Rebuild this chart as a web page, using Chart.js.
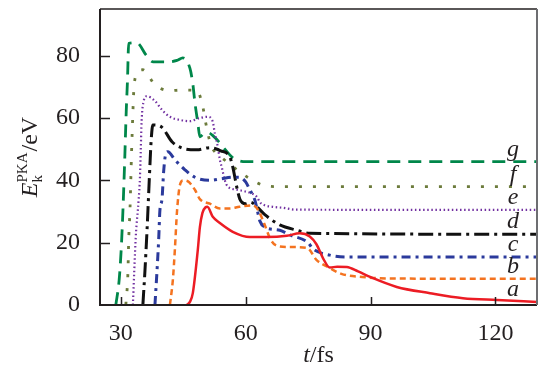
<!DOCTYPE html>
<html>
<head>
<meta charset="utf-8">
<script src="https://cdn.jsdelivr.net/npm/chart.js@4"></script>
<style>
  html, body { margin: 0; padding: 0; background: #fff; }
  #wrap { width: 550px; height: 376px; }
</style>
</head>
<body>
<div id="wrap"><canvas id="chart" width="550" height="376"></canvas></div>
<script>
/* ---- data: t in fs, E in eV ---- */
const T_TICKS = [30, 60, 90, 120];
const E_TICKS = [0, 20, 40, 60, 80];
const CURVE_NAMES = ['a', 'b', 'c', 'd', 'e', 'f', 'g'];

const aT = [45.8, 46.6, 47.3, 48.5, 49, 49.6, 50.3, 50.8, 52.1, 53.8, 56.9, 61, 65, 69.9, 73, 75.4, 77, 78.6, 80.2, 82, 84.3, 87, 89.9, 96.3, 104.3, 112.2, 120.4, 130];
const aE = [0, 1, 3.8, 17.7, 25, 29.5, 31.3, 31.5, 28.3, 26.3, 23.5, 21.8, 21.8, 22.2, 23, 22, 19.5, 15, 12, 12.3, 12.2, 10.8, 9, 5.8, 3.8, 2.2, 1.6, 1.0];

const bT = [41.8, 42.5, 43, 43.5, 44.2, 45, 46, 47.8, 49, 51.4, 53.8, 56.2, 58.5, 61.7, 63, 64.5, 66, 67.5, 70.6, 74.8, 77, 80, 83, 88, 95, 130];
const bE = [0, 8, 18, 30, 38.5, 40, 39.8, 37, 34, 32.5, 31, 31, 31.5, 32, 30.5, 26, 21, 19, 18.6, 18.3, 14.5, 12, 10, 9, 8.5, 8.4];

const cT = [38.2, 38.7, 39.1, 39.4, 39.9, 40.3, 40.8, 41.3, 43, 45.4, 47.8, 51.4, 54, 57, 58.6, 60, 61, 62.2, 62.7, 63.4, 64.6, 68.2, 70.6, 75, 76.2, 80.2, 84.3, 130];
const cE = [0, 11, 21, 30.5, 34, 43, 48.5, 49.2, 46.6, 43.4, 41, 40, 40.5, 41, 41, 39.5, 37, 33.7, 31, 27, 25, 24, 22.5, 20, 18, 16, 15.4, 15.4];

const dT = [35.3, 35.8, 36.3, 36.7, 37, 37.3, 37.7, 39.9, 42.3, 44.7, 48.3, 51.4, 54, 56.2, 56.9, 57.4, 58, 58.6, 60, 61.2, 62.7, 64.6, 68.2, 72.3, 75.5, 130];
const dE = [0, 11, 24, 36, 45, 53, 57.8, 57, 52.4, 50.4, 49.8, 50.5, 49.5, 47.5, 44.3, 41, 37, 34, 32.5, 33, 31.5, 29, 25.7, 24, 23, 22.7];

const eT = [32.9, 33.6, 34.3, 34.6, 34.8, 35, 35.5, 36.2, 38.2, 39.9, 41.8, 44.2, 46.6, 49, 50.9, 52.1, 52.6, 53.3, 53.8, 54.3, 55, 55.7, 57.9, 61, 62.7, 63.4, 64.6, 66.5, 68.9, 72, 130];
const eE = [0, 22, 34, 41, 50, 59, 65.5, 67, 65.5, 62.6, 60.4, 59.4, 59, 60, 60.4, 58.8, 55, 50.8, 46.6, 44, 40, 38, 37, 36, 34.7, 33, 32, 31.5, 31.2, 30.6, 30.5];

const fT = [31.2, 31.7, 31.9, 32.2, 32.6, 32.9, 33.1, 33.6, 35.3, 38.2, 41.8, 44.9, 48.3, 49.7, 50.4, 51.5, 53, 54.3, 57.6, 61, 64.1, 67.7, 130];
const fE = [0, 10, 21, 30.5, 49.8, 61.7, 68.4, 73.6, 75.5, 70.7, 68.8, 69, 68.8, 63.6, 58.5, 52, 48.5, 47.2, 43.7, 40.5, 38.5, 38, 38];

const gT = [28.8, 29.6, 30.1, 30.5, 30.9, 31.3, 31.6, 31.9, 33.8, 36.2, 37.8, 41, 43.5, 44.9, 46.6, 47.3, 47.8, 48.5, 49, 50, 51, 52, 53.8, 55, 56.7, 58, 60, 130];
const gE = [0, 8, 18, 30, 45, 62, 72, 84, 84.2, 80, 78, 78, 78.5, 79.3, 76, 71, 65, 58.5, 54, 55, 55.3, 54.5, 52, 50, 47.5, 46.5, 46, 46];

/* ---- styles ---- */
const SERIF = "'Liberation Serif', 'DejaVu Serif', serif";
const INK = '#231f20';

const STYLES = [
  { color: '#ec1c24', width: 2.5, dash: [] },
  { color: '#f47320', width: 2.5, dash: [6, 4] },
  { color: '#2b3a9c', width: 3, dash: [9, 5, 3, 5] },
  { color: '#111111', width: 3, dash: [15, 5, 3, 5] },
  { color: '#7231a1', width: 2.2, dash: [1.5, 2.6] },
  { color: '#6c7b3b', width: 2.8, dash: [3, 11] },
  { color: '#00874a', width: 2.8, dash: [13, 8] },
];

const SERIES = [[aT, aE], [bT, bE], [cT, cE], [dT, dE], [eT, eE], [fT, fE], [gT, gE]];

const datasets = SERIES.map(([ts, es], i) => ({
  label: CURVE_NAMES[i],
  data: ts.map((t, k) => ({ x: t, y: es[k] })),
  borderColor: STYLES[i].color,
  borderWidth: STYLES[i].width,
  borderDash: STYLES[i].dash,
  borderCapStyle: 'butt',
  cubicInterpolationMode: 'monotone',
  pointRadius: 0,
  fill: false,
}));

/* frame, inward ticks, curve letters and axis titles */
const decorPlugin = {
  id: 'decor',
  afterDraw(chart) {
    const { ctx, chartArea: a, scales } = chart;
    ctx.save();

    // frame
    ctx.strokeStyle = INK;
    ctx.lineWidth = 2;
    ctx.beginPath();
    ctx.moveTo(a.left, a.top);
    ctx.lineTo(a.left, a.bottom);
    ctx.lineTo(a.right, a.bottom);
    ctx.stroke();
    ctx.lineWidth = 1.6;
    ctx.beginPath();
    ctx.moveTo(a.left, a.top);
    ctx.lineTo(a.right, a.top);
    ctx.stroke();
    ctx.strokeStyle = '#6d6e71';
    ctx.lineWidth = 2;
    ctx.beginPath();
    ctx.moveTo(a.right, a.top);
    ctx.lineTo(a.right, a.bottom);
    ctx.stroke();

    // inward ticks
    ctx.strokeStyle = INK;
    ctx.lineWidth = 1.5;
    ctx.beginPath();
    E_TICKS.forEach(v => {
      if (v === 0) return;
      const y = Math.round(scales.y.getPixelForValue(v)) + 0.5;
      ctx.moveTo(a.left, y);
      ctx.lineTo(a.left + 10, y);
    });
    T_TICKS.forEach(v => {
      const x = Math.round(scales.x.getPixelForValue(v)) + 0.5;
      ctx.moveTo(x, a.bottom);
      ctx.lineTo(x, a.bottom - 8);
    });
    ctx.stroke();

    // curve letters above each line end
    ctx.fillStyle = INK;
    ctx.font = 'italic 24px ' + SERIF;
    ctx.textAlign = 'center';
    ctx.textBaseline = 'alphabetic';
    SERIES.forEach(([ts, es], i) => {
      const y = scales.y.getPixelForValue(es[es.length - 1]) - 6;
      ctx.fillText(CURVE_NAMES[i], a.right - 24, y);
    });

    // x title: t/fs
    ctx.textAlign = 'left';
    const xt = 'italic 24px ' + SERIF, xr = '24px ' + SERIF;
    ctx.font = xt; const wT = ctx.measureText('t').width;
    ctx.font = xr; const wR = ctx.measureText('/fs').width;
    let x0 = (a.left + a.right) / 2 - (wT + wR) / 2;
    ctx.font = xt; ctx.fillText('t', x0, 362);
    ctx.font = xr; ctx.fillText('/fs', x0 + wT, 362);

    // y title: E_k^PKA/eV, rotated
    ctx.translate(37, (a.top + a.bottom) / 2);
    ctx.rotate(-Math.PI / 2);
    const big = 24, small = 15;
    ctx.font = 'italic ' + big + 'px ' + SERIF;
    const wE = ctx.measureText('E').width;
    ctx.font = small + 'px ' + SERIF;
    const wK = ctx.measureText('k').width;
    const wP = ctx.measureText('PKA').width;
    ctx.font = big + 'px ' + SERIF;
    const wV = ctx.measureText('/eV').width;
    const total = wE + Math.max(wK, wP) + 1 + wV;
    let cx = -total / 2;
    ctx.font = 'italic ' + big + 'px ' + SERIF;
    ctx.fillText('E', cx, 0);
    cx += wE;
    ctx.font = small + 'px ' + SERIF;
    ctx.fillText('k', cx, 5);
    ctx.fillText('PKA', cx, -10);
    cx += Math.max(wK, wP) + 1;
    ctx.font = big + 'px ' + SERIF;
    ctx.fillText('/eV', cx, 0);

    ctx.restore();
  }
};

new Chart(document.getElementById('chart'), {
  type: 'line',
  data: { datasets },
  options: {
    responsive: false,
    animation: false,
    events: [],
    layout: { padding: { top: 9, right: 13, left: 0, bottom: 0 } },
    plugins: { legend: { display: false }, tooltip: { enabled: false } },
    scales: {
      x: {
        type: 'linear',
        min: 25,
        max: 130,
        afterBuildTicks: s => { s.ticks = T_TICKS.map(v => ({ value: v })); },
        afterFit: s => { s.height = 71; s.paddingLeft = 0; s.paddingRight = 0; },
        grid: { display: false },
        border: { display: false },
        ticks: { color: INK, padding: 6, maxRotation: 0, font: { family: SERIF, size: 24 } },
      },
      y: {
        min: 0,
        max: 95,
        afterBuildTicks: s => { s.ticks = E_TICKS.map(v => ({ value: v })); },
        afterFit: s => { s.width = 100; s.paddingTop = 0; s.paddingBottom = 0; },
        grid: { display: false },
        border: { display: false },
        ticks: { color: INK, padding: 12, font: { family: SERIF, size: 24 } },
      }
    }
  },
  plugins: [decorPlugin]
});
</script>
</body>
</html>
